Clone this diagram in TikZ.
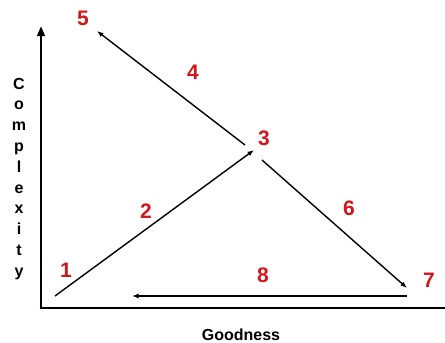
\documentclass[tikz,border=0pt]{standalone}
\usepackage{fontspec}
\setmainfont{Liberation Sans}
\usetikzlibrary{arrows.meta,positioning,calc}
\definecolor{numred}{RGB}{210,22,28}

\begin{document}
\begin{tikzpicture}[
  x=1pt, y=-1pt,
  num/.style={text=numred, font=\bfseries\fontsize{21}{21}\selectfont, inner sep=1pt},
  axl/.style={font=\bfseries\fontsize{16}{16}\selectfont, inner sep=0pt},
  ax/.style={line width=2.8pt, -{Triangle[length=10pt, width=7.5pt]}},
  a/.style={-{Latex[length=6.5pt, width=5pt]}, line width=1.4pt}]

\useasboundingbox (0,0) rectangle (445,343);

% ---------------- the axes -----------------------------------------------
\coordinate (o) at (41,308);
\coordinate (ytop) at (41,26);
\coordinate (xend) at (445,308);
\draw[ax] (o) -- (ytop);
\draw[line width=2.8pt] ($(o)+(-1.4,0)$) -- (xend);

\node[axl, anchor=base] (good) at (241,340) {Goodness};
\foreach \i/\c in {0/C, 1/o, 2/m, 3/p, 4/l, 5/e, 6/x, 7/i, 8/t, 9/y} {
  \node[axl, anchor=base] (c\i) at (19,{89+20.8*\i}) {\c};
}

% ---------------- the numbered states ------------------------------------
\node[num] (n1) at (66,270) {1};
\node[num] (n2) at (146,211) {2};
\node[num] (n3) at (264,138) {3};
\node[num] (n4) at (193,72) {4};
\node[num] (n5) at (83,18) {5};
\node[num] (n6) at (349,208) {6};
\node[num] (n7) at (429,280) {7};
\node[num] (n8) at (263,275) {8};

% ---------------- the moves between them ---------------------------------
\coordinate (s1) at (55,296);
\coordinate (e3) at (254,150);
\coordinate (s3) at (245,145);
\coordinate (e5) at (97,31);
\coordinate (t3) at (262,160);
\coordinate (e7) at (407,288);
\coordinate (s7) at (407,296);
\coordinate (e8) at (132,296);

\draw[a] (s1) -- (e3);
\draw[a] (s3) -- (e5);
\draw[a] (t3) -- (e7);
\draw[a] (s7) -- (e8);
\end{tikzpicture}
\end{document}
